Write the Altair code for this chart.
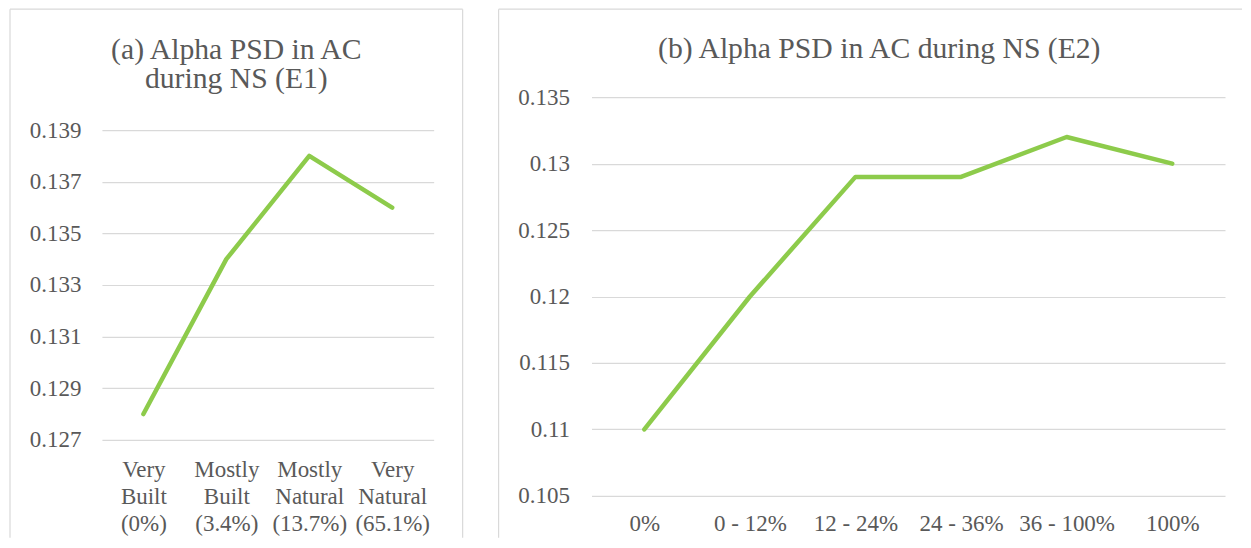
import altair as alt
import pandas as pd

# ---- data ----
cats_a = ["Very Built (0%)", "Mostly Built (3.4%)", "Mostly Natural (13.7%)", "Very Natural (65.1%)"]
vals_a = [0.128, 0.134, 0.138, 0.136]
ticks_a = [0.127, 0.129, 0.131, 0.133, 0.135, 0.137, 0.139]
title_a = ["(a) Alpha PSD in AC", "during NS (E1)"]

cats_b = ["0%", "0 - 12%", "12 - 24%", "24 - 36%", "36 - 100%", "100%"]
vals_b = [0.110, 0.120, 0.129, 0.129, 0.132, 0.130]
ticks_b = [0.105, 0.110, 0.115, 0.120, 0.125, 0.130, 0.135]
title_b = "(b) Alpha PSD in AC during NS (E2)"

FONT = "Liberation Serif"
GRAY = "#595959"
GRID = "#d9d9d9"
GREEN = "#8DCB4B"

one = pd.DataFrame({"k": [0]})


def rule(x, y, x2=None, y2=None):
    enc = {"x": alt.value(x), "y": alt.value(y)}
    if x2 is not None:
        enc["x2"] = alt.value(x2)
    if y2 is not None:
        enc["y2"] = alt.value(y2)
    return alt.Chart(one).mark_rule(color=GRID, strokeWidth=1.2).encode(**enc)


def panel(cats, vals, ticks, w, h, yrange, title, tx, ty, rules, xlab_expr, xpad, ypad):
    df = pd.DataFrame({"cat": cats, "val": vals})
    axis_kw = dict(
        title=None, labelAngle=0, domain=False, ticks=False, grid=False,
        labelPadding=xpad, labelLineHeight=27, labelFont=FONT, labelFontSize=23,
        labelColor=GRAY, labelBaseline="top",
    )
    if xlab_expr:
        axis_kw["labelExpr"] = xlab_expr
    xaxis = alt.Axis(**axis_kw)
    line = alt.Chart(df).mark_line(
        color=GREEN, strokeWidth=4.5, strokeCap="round", strokeJoin="round"
    ).encode(
        x=alt.X("cat:N", sort=cats, scale=alt.Scale(padding=0.5), axis=xaxis),
        y=alt.Y(
            "val:Q",
            scale=alt.Scale(domain=[ticks[0], ticks[-1]], nice=False, zero=False, range=yrange),
            axis=alt.Axis(
                title=None, values=ticks, format=".3~f", domain=False, ticks=False,
                grid=True, gridColor=GRID, gridWidth=1.2, labelPadding=ypad,
                labelFont=FONT, labelFontSize=23, labelColor=GRAY,
            ),
        ),
    )
    ttl = alt.Chart(one).mark_text(
        font=FONT, fontSize=29.7, color=GRAY, align="center", baseline="alphabetic", lineHeight=29
    ).encode(x=alt.value(tx), y=alt.value(ty), text=alt.value(title))
    return alt.layer(*rules, line, ttl).properties(width=w, height=h)


# left panel: plot origin shared with right panel (top at same page row)
left = panel(
    cats_a, vals_a, ticks_a, 332, 343, [343, 33], title_a, 134.5, -38,
    [rule(-92, -88, x2=361), rule(-92, -88, y2=441), rule(361, -88, y2=441)],
    "split(datum.label, ' ')", 19, 21,
)
right = panel(
    cats_b, vals_b, ticks_b, 634, 399, [399, 0], title_b, 288, -39,
    [rule(-93, -88, x2=651), rule(-93, -88, y2=441)],
    None, 17, 22,
)

chart = alt.hconcat(left, right, spacing=34).properties(
    padding={"left": 1, "top": 0, "right": 0, "bottom": 0}
).configure_view(stroke=None)

chart.save("out.html", embed_options={"renderer": "svg", "actions": False})
